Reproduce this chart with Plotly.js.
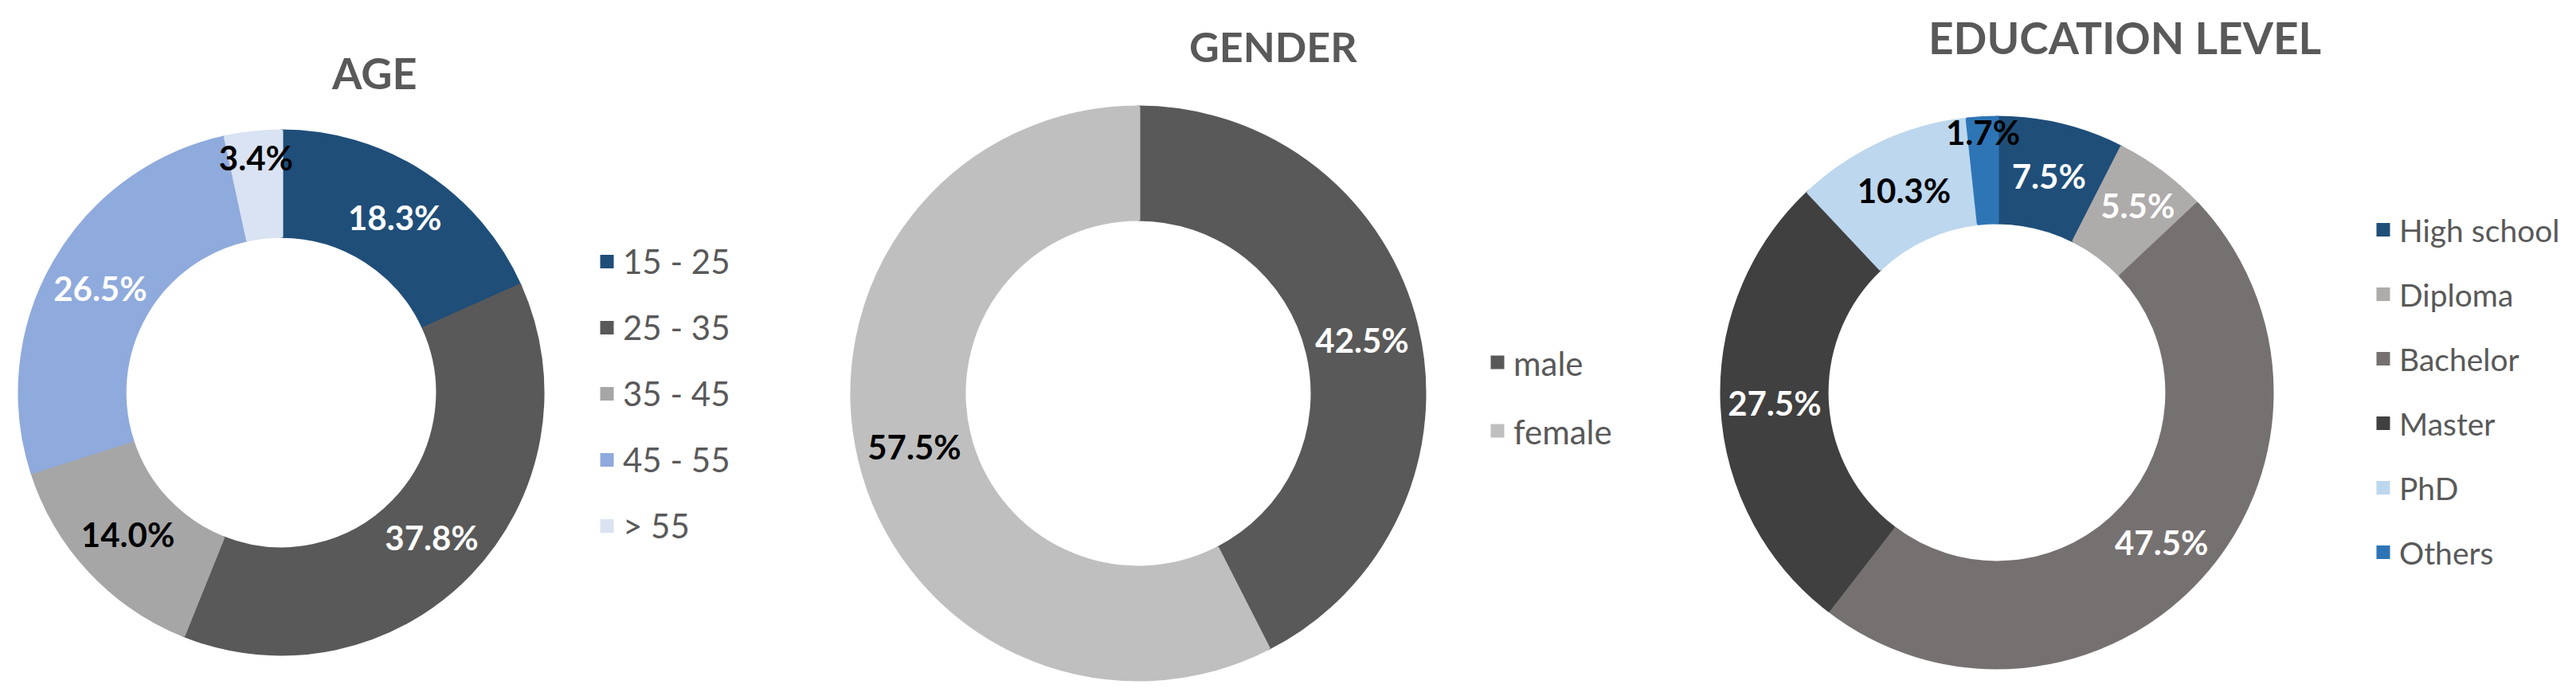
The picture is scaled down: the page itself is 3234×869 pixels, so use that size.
<!DOCTYPE html>
<html>
<head>
<meta charset="utf-8">
<script src="https://cdn.plot.ly/plotly-3.0.1.min.js"></script>
<style>html,body{margin:0;padding:0;background:#fff;}#chart{width:3234px;height:869px;}</style>
</head>
<body>
<div id="chart"></div>
<script>
// ---- data ----
const ageLabels = ['15 - 25', '25 - 35', '35 - 45', '45 - 55', '> 55'];
const ageValues = [18.3, 37.8, 14.0, 26.5, 3.4];

const genderLabels = ['male', 'female'];
const genderValues = [42.5, 57.5];

const eduLabels = ['High school', 'Diploma', 'Bachelor', 'Master', 'PhD', 'Others'];
const eduValues = [7.5, 5.5, 47.5, 27.5, 10.3, 1.7];

const chartTitles = ['AGE', 'GENDER', 'EDUCATION LEVEL'];

// ---- styles ----
const ageColors = ['#1F4E79', '#595959', '#A6A6A6', '#8FAADC', '#DAE3F3'];
const ageTextColors = ['#FFFFFF', '#FFFFFF', '#000000', '#FFFFFF', '#000000'];
const genderColors = ['#595959', '#BFBFBF'];
const genderTextColors = ['#FFFFFF', '#000000'];
const eduColors = ['#1F4E79', '#AEABAB', '#767171', '#404040', '#BDD7EE', '#2E75B6'];
const eduTextColors = ['#FFFFFF', '#FFFFFF', '#FFFFFF', '#FFFFFF', '#000000', '#000000'];

const W = 3234, H = 869;
const FONT = 'Lato, "Open Sans", sans-serif';
const LABEL_SIZE = 42;

function legendLabel(name, size) {
  return '\u00a0<br>\u00a0<br><span style="font-size:' + size + 'px">' + name + '</span><br>\u00a0';
}
function domainFor(cx, cy, r) {
  return {
    x: [(cx - r) / W, (cx + r) / W],
    y: [(H - (cy + r)) / H, (H - (cy - r)) / H]
  };
}
function pieTrace(labels, values, colors, textColors, hole, dom, legendId, legendSize) {
  const tf = {family: FONT, size: LABEL_SIZE, weight: 'bold', color: textColors};
  return {
    type: 'pie',
    labels: labels.map(l => legendLabel(l, legendSize)),
    values: values,
    sort: false,
    direction: 'clockwise',
    rotation: 0,
    hole: hole,
    domain: dom,
    legend: legendId,
    marker: {colors: colors, line: {color: colors, width: 5}},
    texttemplate: '<b>%{percent:.1%}</b>',
    textposition: 'inside',
    insidetextorientation: 'horizontal',
    textfont: tf,
    insidetextfont: tf,
    hoverinfo: 'none'
  };
}

const data = [
  pieTrace(ageLabels, ageValues, ageColors, ageTextColors, 0.6, domainFor(353, 493, 328), 'legend', 42),
  pieTrace(genderLabels, genderValues, genderColors, genderTextColors, 0.61, domainFor(1429, 494, 359), 'legend2', 42),
  pieTrace(eduLabels, eduValues, eduColors, eduTextColors, 0.62, domainFor(2507, 493, 345), 'legend3', 39)
];

function legendCfg(xpx, ycpx, fs) {
  return {
    x: xpx / W, xanchor: 'left',
    y: (H - ycpx) / H, yanchor: 'middle',
    orientation: 'v',
    bgcolor: 'rgba(0,0,0,0)',
    borderwidth: 0,
    font: {family: FONT, size: fs, color: '#595959'}
  };
}

const titlePos = [[470, 91], [1598, 58], [2667, 47]];
const titleSizes = [54, 52, 55];

const layout = {
  width: W, height: H,
  margin: {l: 0, r: 0, t: 0, b: 0},
  paper_bgcolor: '#FFFFFF',
  showlegend: true,
  uniformtext: {mode: 'show', minsize: LABEL_SIZE},
  legend: legendCfg(742, 494.5, 15.38),
  legend2: legendCfg(1860, 498, 15.96),
  legend3: legendCfg(2972, 491, 15),
  annotations: chartTitles.map((t, i) => ({
    text: t, xref: 'paper', yref: 'paper',
    x: titlePos[i][0] / W, y: (H - titlePos[i][1]) / H,
    xanchor: 'center', yanchor: 'middle', showarrow: false,
    font: {family: FONT, size: titleSizes[i], weight: 700, color: '#595959'}
  }))
};

Plotly.newPlot('chart', data, layout, {staticPlot: true, displayModeBar: false});
</script>
</body>
</html>
